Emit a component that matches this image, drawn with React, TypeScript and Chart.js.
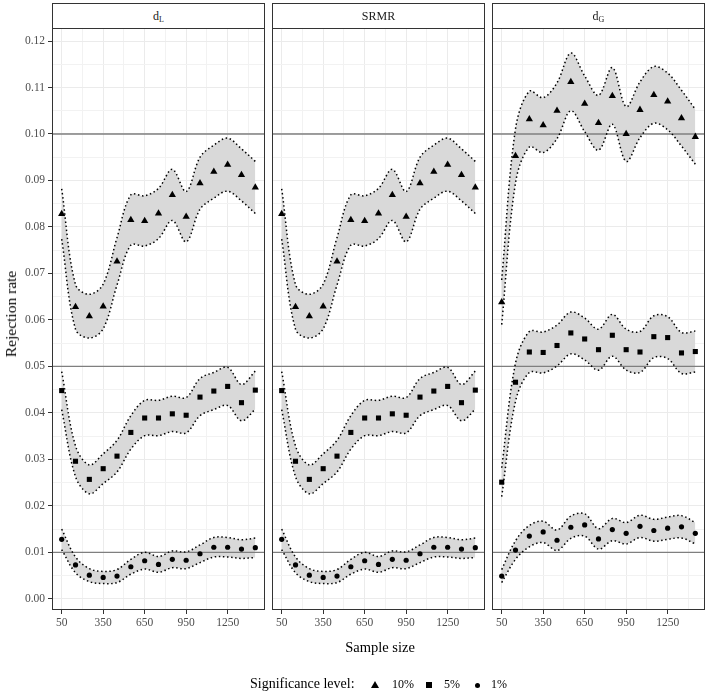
import React, { useEffect, useRef } from 'react';
import { Chart, registerables } from 'chart.js';
Chart.register(...registerables);

const FONT = "'Liberation Serif', 'Times New Roman', serif";

// ---------- data ----------
const SAMPLE_SIZES = [50, 150, 250, 350, 450, 550, 650, 750, 850, 950, 1050, 1150, 1250, 1350, 1450];

// d_L
const DL_10 = [0.0828, 0.0628, 0.0608, 0.0629, 0.0726, 0.0815, 0.0813, 0.0829, 0.0869, 0.0822, 0.0894, 0.0919, 0.0934, 0.0912, 0.0885];
const DL_10_LO = [0.0774, 0.0580, 0.0561, 0.0581, 0.0675, 0.0761, 0.0759, 0.0775, 0.0814, 0.0768, 0.0838, 0.0862, 0.0877, 0.0856, 0.0829];
const DL_10_HI = [0.0882, 0.0676, 0.0655, 0.0677, 0.0777, 0.0869, 0.0867, 0.0883, 0.0924, 0.0876, 0.0950, 0.0976, 0.0991, 0.0968, 0.0941];
const DL_5 = [0.0448, 0.0296, 0.0257, 0.0280, 0.0307, 0.0358, 0.0389, 0.0389, 0.0398, 0.0395, 0.0434, 0.0447, 0.0457, 0.0422, 0.0449];
const DL_5_LO = [0.0407, 0.0263, 0.0226, 0.0248, 0.0273, 0.0322, 0.0351, 0.0351, 0.0360, 0.0357, 0.0394, 0.0407, 0.0416, 0.0383, 0.0408];
const DL_5_HI = [0.0489, 0.0329, 0.0288, 0.0312, 0.0341, 0.0394, 0.0427, 0.0427, 0.0436, 0.0433, 0.0474, 0.0487, 0.0498, 0.0461, 0.0490];
const DL_1 = [0.0128, 0.0073, 0.0051, 0.0046, 0.0049, 0.0069, 0.0082, 0.0074, 0.0085, 0.0083, 0.0097, 0.0111, 0.0111, 0.0107, 0.0110];
const DL_1_LO = [0.0106, 0.0056, 0.0037, 0.0033, 0.0035, 0.0053, 0.0064, 0.0057, 0.0067, 0.0065, 0.0078, 0.0090, 0.0090, 0.0087, 0.0089];
const DL_1_HI = [0.0150, 0.0090, 0.0065, 0.0059, 0.0063, 0.0085, 0.0100, 0.0091, 0.0103, 0.0101, 0.0116, 0.0132, 0.0132, 0.0127, 0.0131];

// SRMR
const SRMR_10 = [0.0828, 0.0628, 0.0608, 0.0629, 0.0726, 0.0815, 0.0813, 0.0829, 0.0869, 0.0822, 0.0894, 0.0919, 0.0934, 0.0912, 0.0885];
const SRMR_10_LO = [0.0774, 0.0580, 0.0561, 0.0581, 0.0675, 0.0761, 0.0759, 0.0775, 0.0814, 0.0768, 0.0838, 0.0862, 0.0877, 0.0856, 0.0829];
const SRMR_10_HI = [0.0882, 0.0676, 0.0655, 0.0677, 0.0777, 0.0869, 0.0867, 0.0883, 0.0924, 0.0876, 0.0950, 0.0976, 0.0991, 0.0968, 0.0941];
const SRMR_5 = [0.0448, 0.0296, 0.0257, 0.0280, 0.0307, 0.0358, 0.0389, 0.0389, 0.0398, 0.0395, 0.0434, 0.0447, 0.0457, 0.0422, 0.0449];
const SRMR_5_LO = [0.0407, 0.0263, 0.0226, 0.0248, 0.0273, 0.0322, 0.0351, 0.0351, 0.0360, 0.0357, 0.0394, 0.0407, 0.0416, 0.0383, 0.0408];
const SRMR_5_HI = [0.0489, 0.0329, 0.0288, 0.0312, 0.0341, 0.0394, 0.0427, 0.0427, 0.0436, 0.0433, 0.0474, 0.0487, 0.0498, 0.0461, 0.0490];
const SRMR_1 = [0.0128, 0.0073, 0.0051, 0.0046, 0.0049, 0.0069, 0.0082, 0.0074, 0.0085, 0.0083, 0.0097, 0.0111, 0.0111, 0.0107, 0.0110];
const SRMR_1_LO = [0.0106, 0.0056, 0.0037, 0.0033, 0.0035, 0.0053, 0.0064, 0.0057, 0.0067, 0.0065, 0.0078, 0.0090, 0.0090, 0.0087, 0.0089];
const SRMR_1_HI = [0.0150, 0.0090, 0.0065, 0.0059, 0.0063, 0.0085, 0.0100, 0.0091, 0.0103, 0.0101, 0.0116, 0.0132, 0.0132, 0.0127, 0.0131];

// d_G
const DG_10 = [0.0638, 0.0953, 0.1032, 0.1019, 0.1050, 0.1112, 0.1065, 0.1024, 0.1082, 0.1000, 0.1052, 0.1084, 0.1070, 0.1034, 0.0994];
const DG_10_LO = [0.0590, 0.0895, 0.0972, 0.0960, 0.0990, 0.1050, 0.1005, 0.0965, 0.1021, 0.0941, 0.0992, 0.1023, 0.1009, 0.0974, 0.0935];
const DG_10_HI = [0.0686, 0.1011, 0.1092, 0.1078, 0.1110, 0.1174, 0.1125, 0.1083, 0.1143, 0.1059, 0.1112, 0.1145, 0.1131, 0.1094, 0.1053];
const DG_5 = [0.0251, 0.0466, 0.0531, 0.0530, 0.0545, 0.0572, 0.0559, 0.0536, 0.0567, 0.0536, 0.0531, 0.0564, 0.0562, 0.0529, 0.0532];
const DG_5_LO = [0.0220, 0.0425, 0.0487, 0.0486, 0.0501, 0.0527, 0.0514, 0.0492, 0.0522, 0.0492, 0.0487, 0.0519, 0.0517, 0.0485, 0.0488];
const DG_5_HI = [0.0282, 0.0507, 0.0575, 0.0574, 0.0589, 0.0617, 0.0604, 0.0580, 0.0612, 0.0580, 0.0575, 0.0609, 0.0607, 0.0573, 0.0576];
const DG_1 = [0.0049, 0.0105, 0.0135, 0.0144, 0.0126, 0.0154, 0.0159, 0.0129, 0.0149, 0.0141, 0.0156, 0.0147, 0.0152, 0.0155, 0.0141];
const DG_1_LO = [0.0035, 0.0085, 0.0112, 0.0121, 0.0104, 0.0130, 0.0135, 0.0107, 0.0125, 0.0118, 0.0132, 0.0124, 0.0128, 0.0131, 0.0118];
const DG_1_HI = [0.0063, 0.0125, 0.0158, 0.0167, 0.0148, 0.0178, 0.0183, 0.0151, 0.0173, 0.0164, 0.0180, 0.0171, 0.0176, 0.0179, 0.0164];

const REF_LINES = [0.10, 0.05, 0.01];

const X_TICKS = [50, 350, 650, 950, 1250];
const X_MINOR = [200, 500, 800, 1100, 1400];
const Y_TICKS = [0, 0.01, 0.02, 0.03, 0.04, 0.05, 0.06, 0.07, 0.08, 0.09, 0.10, 0.11, 0.12];
const Y_TICK_LABELS = ['0.00', '0.01', '0.02', '0.03', '0.04', '0.05', '0.06', '0.07', '0.08', '0.09', '0.10', '0.11', '0.12'];
const Y_MINOR = [0.005, 0.015, 0.025, 0.035, 0.045, 0.055, 0.065, 0.075, 0.085, 0.095, 0.105, 0.115];

const X_MIN = -20, X_MAX = 1520, Y_MIN = -0.0024, Y_MAX = 0.1228;

const LEVELS = ['10%', '5%', '1%'];
const SHAPES = ['triangle', 'rect', 'circle'];
const RADII = [4.2, 3.6, 2.6];

type Panel = { title: string; sub?: string; pts: number[][]; lo: number[][]; hi: number[][] };

const PANELS: Panel[] = [
  { title: 'd', sub: 'L', pts: [DL_10, DL_5, DL_1], lo: [DL_10_LO, DL_5_LO, DL_1_LO], hi: [DL_10_HI, DL_5_HI, DL_1_HI] },
  { title: 'SRMR', pts: [SRMR_10, SRMR_5, SRMR_1], lo: [SRMR_10_LO, SRMR_5_LO, SRMR_1_LO], hi: [SRMR_10_HI, SRMR_5_HI, SRMR_1_HI] },
  { title: 'd', sub: 'G', pts: [DG_10, DG_5, DG_1], lo: [DG_10_LO, DG_5_LO, DG_1_LO], hi: [DG_10_HI, DG_5_HI, DG_1_HI] },
];

const isIn = (arr: number[], v: number) => arr.some((a) => Math.abs(a - v) < 1e-9);

const borderPlugin = {
  id: 'panelBorder',
  afterDraw(chart: any) {
    const { ctx, chartArea: a } = chart;
    ctx.save();
    ctx.strokeStyle = '#333333';
    ctx.lineWidth = 1;
    ctx.strokeRect(a.left + 0.5, a.top + 0.5, a.right - a.left - 1, a.bottom - a.top - 1);
    ctx.restore();
  },
};

const CANVAS_TOP = 27;
const CANVAS_H = 614;

const zeroPad = (s: any) => { s.paddingLeft = 0; s.paddingRight = 0; s.paddingTop = 0; s.paddingBottom = 0; };

function PanelChart({ panel, first, left, width }: { panel: Panel; first: boolean; left: number; width: number }) {
  const ref = useRef<HTMLCanvasElement>(null);
  useEffect(() => {
    const datasets: any[] = [];
    const xy = (ys: number[]) => SAMPLE_SIZES.map((x, i) => ({ x, y: ys[i] }));
    panel.pts.forEach((_, k) => {
      datasets.push({
        type: 'line', data: xy(panel.hi[k]), borderWidth: 0, pointRadius: 0, tension: 0.35,
        fill: '+1', backgroundColor: '#d9d9d9', borderColor: 'rgba(0,0,0,0)', order: 5,
      });
      datasets.push({
        type: 'line', data: xy(panel.lo[k]), borderWidth: 0, pointRadius: 0, tension: 0.35,
        fill: false, borderColor: 'rgba(0,0,0,0)', order: 5,
      });
    });
    REF_LINES.forEach((r) => {
      datasets.push({
        type: 'line', data: [{ x: X_MIN, y: r }, { x: X_MAX, y: r }], borderColor: '#7f7f7f',
        borderWidth: 1.4, pointRadius: 0, fill: false, order: 3,
      });
    });
    panel.pts.forEach((_, k) => {
      [panel.hi[k], panel.lo[k]].forEach((ys) => {
        datasets.push({
          type: 'line', data: xy(ys), borderColor: '#000000', borderWidth: 1.5, borderDash: [1.5, 2.6],
          pointRadius: 0, tension: 0.35, fill: false, order: 2,
        });
      });
    });
    panel.pts.forEach((ys, k) => {
      datasets.push({
        type: 'line', label: LEVELS[k], data: xy(ys), showLine: false, pointStyle: SHAPES[k],
        pointRadius: RADII[k], pointBackgroundColor: '#000000', pointBorderColor: '#000000', pointBorderWidth: 0, order: 0,
      });
    });

    const chart = new Chart(ref.current!, {
      type: 'line',
      data: { datasets },
      plugins: [borderPlugin],
      options: {
        animation: false,
        responsive: false,
        events: [],
        layout: { autoPadding: false, padding: { top: 1, left: 0, right: 0, bottom: 0 } },
        plugins: { legend: { display: false }, tooltip: { enabled: false } },
        scales: {
          x: {
            type: 'linear', min: X_MIN, max: X_MAX,
            afterBuildTicks: (s: any) => { s.ticks = [...X_TICKS, ...X_MINOR].sort((a, b) => a - b).map((v) => ({ value: v })); },
            afterFit: (s: any) => { s.height = 31; zeroPad(s); },
            ticks: {
              autoSkip: false, maxRotation: 0, padding: 2, color: '#4d4d4d',
              font: { family: FONT, size: 11.5 },
              callback: (v: any) => (isIn(X_TICKS, Number(v)) ? String(v) : ''),
            },
            grid: {
              color: (c: any) => (c.tick && isIn(X_TICKS, c.tick.value) ? '#ebebeb' : '#f2f2f2'),
              lineWidth: 1,
              tickColor: (c: any) => (c.tick && isIn(X_TICKS, c.tick.value) ? '#333333' : 'rgba(0,0,0,0)'),
              tickLength: 4, tickWidth: 1,
            },
            border: { display: false },
          },
          y: {
            type: 'linear', min: Y_MIN, max: Y_MAX,
            afterBuildTicks: (s: any) => { s.ticks = [...Y_TICKS, ...Y_MINOR].sort((a, b) => a - b).map((v) => ({ value: v })); },
            afterFit: (s: any) => { s.width = first ? 52 : 0; zeroPad(s); },
            ticks: {
              display: first, autoSkip: false, padding: 3, color: '#4d4d4d',
              font: { family: FONT, size: 11.5 },
              callback: (v: any) => {
                const i = Y_TICKS.findIndex((t) => Math.abs(t - Number(v)) < 1e-9);
                return i >= 0 ? Y_TICK_LABELS[i] : '';
              },
            },
            grid: {
              color: (c: any) => (c.tick && isIn(Y_TICKS, c.tick.value) ? '#ebebeb' : '#f2f2f2'),
              lineWidth: 1,
              drawTicks: first,
              tickColor: (c: any) => (c.tick && isIn(Y_TICKS, c.tick.value) ? '#333333' : 'rgba(0,0,0,0)'),
              tickLength: 4, tickWidth: 1,
            },
            border: { display: false },
          },
        },
      } as any,
    });
    return () => chart.destroy();
  }, []);
  return (
    <canvas ref={ref} width={width} height={CANVAS_H}
      style={{ position: 'absolute', left, top: CANVAS_TOP, width, height: CANVAS_H }} />
  );
}

function Strip({ left, panel }: { left: number; panel: Panel }) {
  return (
    <div style={{
      position: 'absolute', left, top: 3, width: 213, height: 26, boxSizing: 'border-box',
      border: '1px solid #333333', background: '#ffffff', display: 'flex', alignItems: 'center',
      justifyContent: 'center', fontFamily: FONT, fontSize: 12, color: '#1a1a1a',
    }}>
      <span>
        {panel.title}
        {panel.sub ? <sub style={{ fontSize: 8, verticalAlign: '-2px' }}>{panel.sub}</sub> : null}
      </span>
    </div>
  );
}

export default function App() {
  const lefts = [52, 272, 492];
  return (
    <div style={{ position: 'absolute', left: 0, top: 0, width: 708, height: 696, background: '#ffffff', overflow: 'hidden' }}>
      <PanelChart panel={PANELS[0]} first={true} left={0} width={265} />
      <PanelChart panel={PANELS[1]} first={false} left={272} width={213} />
      <PanelChart panel={PANELS[2]} first={false} left={492} width={213} />
      {PANELS.map((p, i) => <Strip key={i} left={lefts[i]} panel={p} />)}
      <div style={{
        position: 'absolute', left: 11, top: 314, transform: 'translate(-50%, -50%) rotate(-90deg)',
        fontFamily: FONT, fontSize: 15.5, color: '#000', whiteSpace: 'nowrap',
      }}>Rejection rate</div>
      <div style={{
        position: 'absolute', left: 380, top: 647, transform: 'translate(-50%, -50%)',
        fontFamily: FONT, fontSize: 14.5, color: '#000', whiteSpace: 'nowrap',
      }}>Sample size</div>
      <div style={{ position: 'absolute', left: 0, top: 676, width: 708, height: 18, fontFamily: FONT, fontSize: 14, color: '#000' }}>
        <span style={{ position: 'absolute', left: 250, top: 0, whiteSpace: 'nowrap' }}>Significance level:</span>
        <span style={{ position: 'absolute', left: 371, top: 5, width: 0, height: 0, borderLeft: '4px solid transparent', borderRight: '4px solid transparent', borderBottom: '7px solid #000' }} />
        <span style={{ position: 'absolute', left: 392, top: 1, fontSize: 12, whiteSpace: 'nowrap' }}>10%</span>
        <span style={{ position: 'absolute', left: 426, top: 6, width: 6, height: 6, background: '#000' }} />
        <span style={{ position: 'absolute', left: 444, top: 1, fontSize: 12, whiteSpace: 'nowrap' }}>5%</span>
        <span style={{ position: 'absolute', left: 474.5, top: 6.5, width: 5, height: 5, borderRadius: '50%', background: '#000' }} />
        <span style={{ position: 'absolute', left: 491, top: 1, fontSize: 12, whiteSpace: 'nowrap' }}>1%</span>
      </div>
    </div>
  );
}
